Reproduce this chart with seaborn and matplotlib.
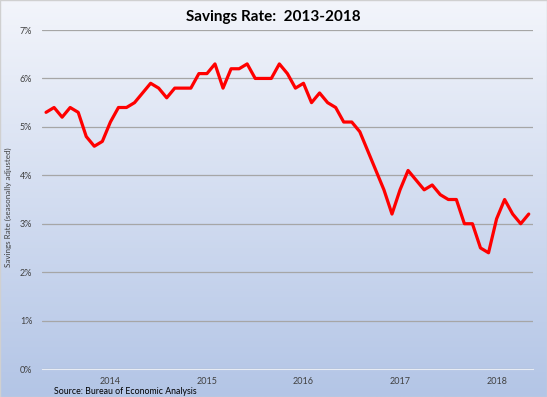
import numpy as np
import pandas as pd
import matplotlib
matplotlib.use("Agg")
import matplotlib.pyplot as plt
import seaborn as sns
from matplotlib.colors import LinearSegmentedColormap

# Månadsdata: sparkvot (%), maj 2013 - maj 2018
months = pd.date_range("2013-05-01", "2018-05-01", freq="MS")
rates = [5.3, 5.4, 5.2, 5.4, 5.3, 4.8, 4.6, 4.7, 5.1, 5.4,
         5.4, 5.5, 5.7, 5.9, 5.8, 5.6, 5.8, 5.8, 5.8, 6.1,
         6.1, 6.3, 5.8, 6.2, 6.2, 6.3, 6.0, 6.0, 6.0, 6.3,
         6.1, 5.8, 5.9, 5.5, 5.7, 5.5, 5.4, 5.1, 5.1, 4.9,
         4.5, 4.1, 3.7, 3.2, 3.7, 4.1, 3.9, 3.7, 3.8, 3.6,
         3.5, 3.5, 3.0, 3.0, 2.5, 2.4, 3.1, 3.5, 3.2, 3.0,
         3.2]
y_ticks = [0, 1, 2, 3, 4, 5, 6, 7]

df = pd.DataFrame({"pos": np.arange(len(months)), "month": months, "rate": rates})
year_pos = df.loc[df["month"].dt.month == 1, "pos"].tolist()
year_lbl = df.loc[df["month"].dt.month == 1, "month"].dt.year.astype(str).tolist()

sns.set_style("white")
plt.rcParams["font.family"] = ["Lato", "DejaVu Sans"]

fig = plt.figure(figsize=(5.47, 3.97), dpi=100)

# Bakgrund med gradient
bg = fig.add_axes([0, 0, 1, 1], zorder=-1)
cmap = LinearSegmentedColormap.from_list("bg", ["#f3f5fb", "#b3c5e6"])
bg.imshow(np.linspace(0, 1, 256).reshape(-1, 1), aspect="auto", cmap=cmap,
          extent=[0, 1, 0, 1], origin="upper")
bg.set_axis_off()
fig.patches.append(plt.Rectangle((0, 0), 1, 1, transform=fig.transFigure,
                                 fill=False, edgecolor="#d0d0d0", linewidth=1))

ax = fig.add_axes([0.0768, 0.0705, 0.8972, 0.8539])
ax.set_facecolor("none")
sns.lineplot(data=df, x="pos", y="rate", color="#ff0000", linewidth=2.3, ax=ax, zorder=3)

ax.set_xlim(-0.5, 60.5)
ax.set_ylim(0, 7)
ax.set_yticks(y_ticks)
ax.set_yticklabels([f"{t}%" for t in y_ticks], fontsize=6.5, color="#404040")
ax.set_xticks(year_pos)
ax.set_xticklabels(year_lbl, fontsize=6.5, color="#404040")
ax.set_xticks(df["pos"] - 0.5, minor=True)
ax.tick_params(axis="x", which="major", length=0, pad=6)
ax.tick_params(axis="x", which="minor", length=2, direction="in", color="#e8ecf4", width=0.8)
ax.tick_params(axis="y", length=0, pad=7)
ax.grid(axis="y", color="#a6a6a6", linewidth=0.9)
for s in ["top", "right", "left"]:
    ax.spines[s].set_visible(False)
ax.spines["bottom"].set_color("#e8ecf4")
ax.spines["bottom"].set_linewidth(0.8)
ax.set_xlabel("")
ax.set_ylabel("Savings Rate (seasonally adjusted)", fontsize=5.8, color="#404040")
ax.yaxis.set_label_coords(-0.062, 0.478)

fig.text(0.5, 0.958, "Savings Rate:  2013-2018", ha="center", va="center",
         fontsize=11, fontweight="bold", color="#000000")
fig.text(0.099, 0.013, "Source: Bureau of Economic Analysis", ha="left", va="center",
         fontsize=6.3, color="#000000")

fig.savefig("out.png", dpi=100)
